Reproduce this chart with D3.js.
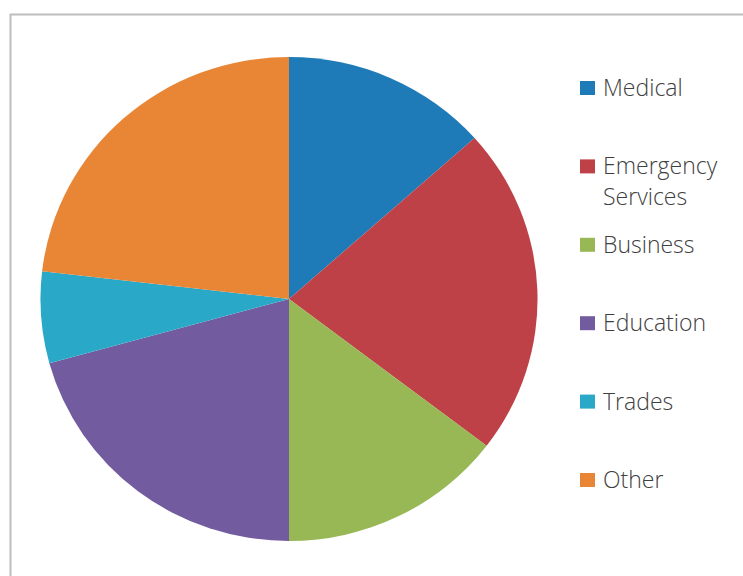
<!DOCTYPE html>
<html>
<head>
<meta charset="utf-8">
<script src="https://cdn.jsdelivr.net/npm/d3@7"></script>
<style>
  body { margin: 0; background: #fff; }
  svg { display: block; }
</style>
</head>
<body>
<svg width="743" height="576"></svg>
<script>
// categories and counts (82 answers in all)
var categories = ["Medical", "Emergency Services", "Business", "Education", "Trades", "Other"];
var counts = [11, 18, 12, 17, 5, 19];
var colors = ["#1f7bb7", "#bd4147", "#98b855", "#735b9f", "#2aa8c7", "#e88636"];
// legend labels, wrapped the way the picture shows them
var legendLines = [["Medical"], ["Emergency", "Services"], ["Business"], ["Education"], ["Trades"], ["Other"]];

var svg = d3.select("svg");

// grey frame, runs off the right and bottom edge
svg.append("rect")
  .attr("x", 10.5).attr("y", 14.5)
  .attr("width", 800).attr("height", 700)
  .attr("fill", "none")
  .attr("stroke", "#bdbdbd")
  .attr("stroke-width", 2);

var pie = d3.pie().sort(null).value(function(d) { return d; });
var arc = d3.arc().innerRadius(0).outerRadius(242);

// pie is a little wider than tall in the picture
var g = svg.append("g")
  .attr("transform", "translate(289,299) scale(1.027,1)");

g.selectAll("path")
  .data(pie(counts))
  .enter().append("path")
  .attr("d", arc)
  .attr("fill", function(d, i) { return colors[i]; });

var legendY = d3.scalePoint().domain(categories).range([81, 473]);

var leg = svg.append("g").selectAll("g")
  .data(categories)
  .enter().append("g")
  .attr("transform", function(d) { return "translate(580," + legendY(d) + ")"; });

leg.append("rect")
  .attr("width", 15).attr("height", 14)
  .attr("fill", function(d, i) { return colors[i]; });

leg.append("text")
  .attr("x", 23)
  .attr("y", 15)
  .attr("font-family", "'Open Sans', sans-serif")
  .attr("font-size", 23)
  .attr("font-weight", 300)
  .attr("fill", "#404040")
  .selectAll("tspan")
  .data(function(d, i) { return legendLines[i]; })
  .enter().append("tspan")
  .attr("x", 23)
  .attr("dy", function(d, j) { return j == 0 ? 0 : 31; })
  .text(function(d) { return d; });
</script>
</body>
</html>
